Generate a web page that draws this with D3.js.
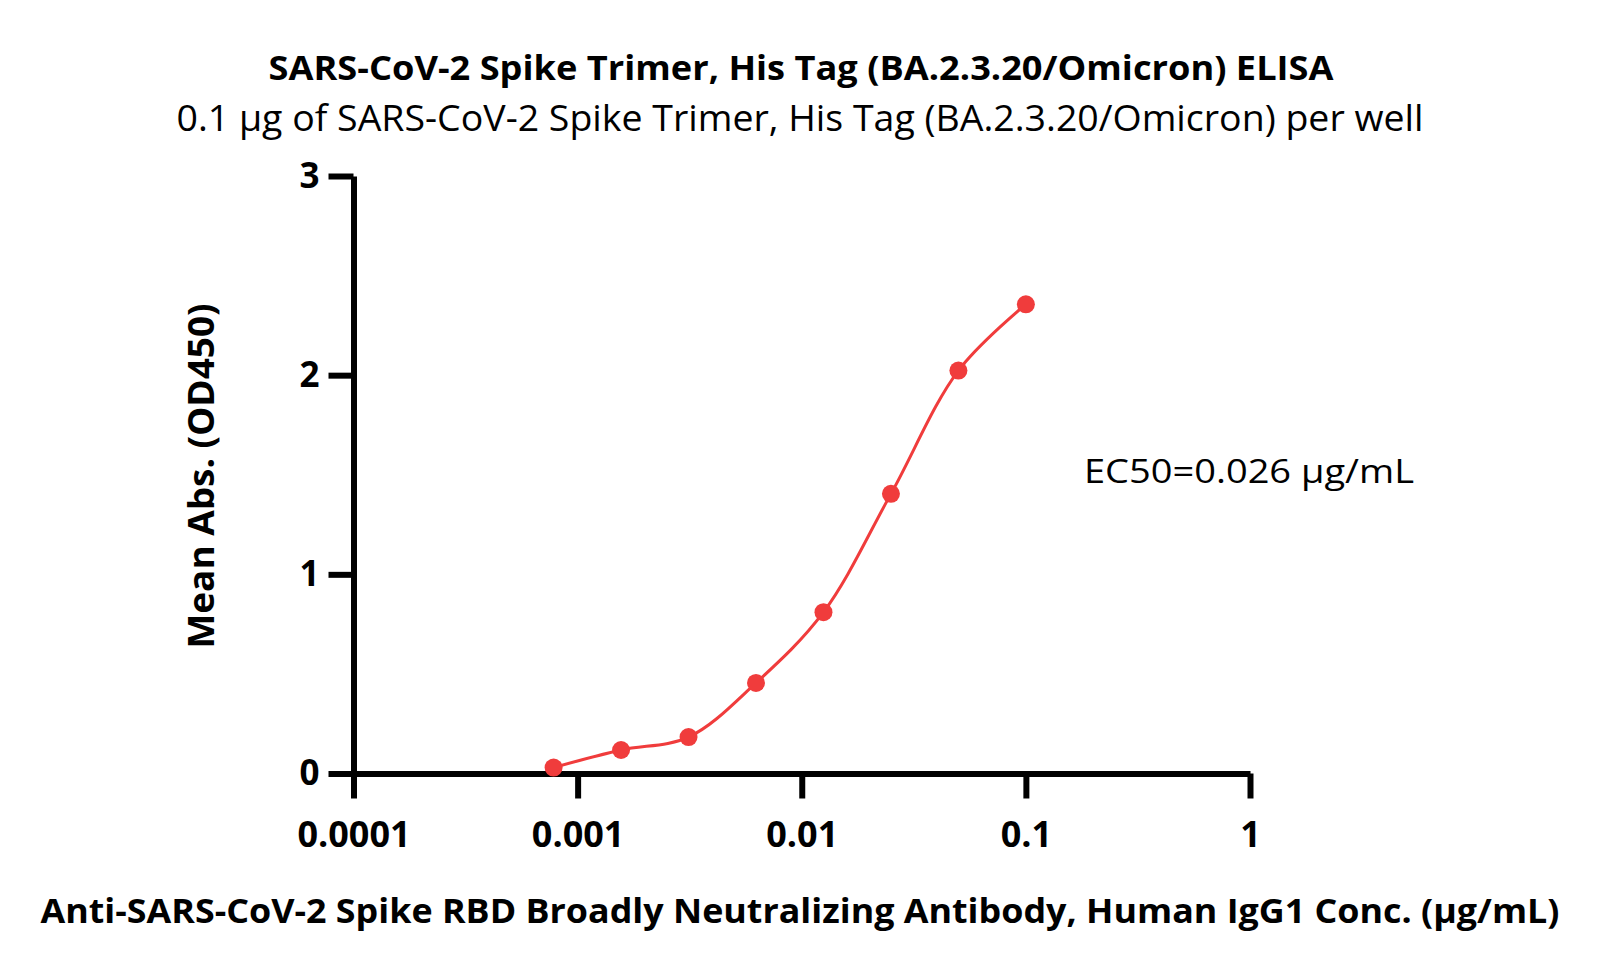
<!DOCTYPE html>
<html>
<head>
<meta charset="utf-8">
<script src="https://cdn.jsdelivr.net/npm/d3@7"></script>
<style>
  body { margin: 0; background: #fff; }
  text { font-family: "Open Sans", "Noto Sans", sans-serif; fill: #000; }
</style>
</head>
<body>
<div id="chart"></div>
<script>
// concentrations (µg/mL) and mean absorbance
const concentrations = [0.00078125, 0.0015625, 0.003125, 0.00625, 0.0125, 0.025, 0.05, 0.1];
const absorbance = [0.03, 0.118, 0.183, 0.455, 0.81, 1.404, 2.023, 2.356];

const xTickValues = [0.0001, 0.001, 0.01, 0.1, 1];
const xTickLabels = ["0.0001", "0.001", "0.01", "0.1", "1"];
const yTickValues = [0, 1, 2, 3];

const title = "SARS-CoV-2 Spike Trimer, His Tag (BA.2.3.20/Omicron) ELISA";
const subtitle = "0.1 \u00b5g of SARS-CoV-2 Spike Trimer, His Tag (BA.2.3.20/Omicron) per well";
const xLabel = "Anti-SARS-CoV-2 Spike RBD Broadly Neutralizing Antibody, Human IgG1 Conc. (\u03bcg/mL)";
const yLabel = "Mean Abs. (OD450)";
const ec50Label = "EC50=0.026 \u00b5g/mL";

const width = 1604;
const height = 979;
const red = "#f03c3c";

const data = concentrations.map((c, i) => ({ conc: c, od: absorbance[i] }));

const svg = d3.select("#chart")
    .append("svg")
    .attr("width", width)
    .attr("height", height);

const xScale = d3.scaleLog()
    .domain([0.0001, 1])
    .range([353.5, 1250]);

const yScale = d3.scaleLinear()
    .domain([0, 3])
    .range([773.5, 176]);

// axes
const bottomAxis = d3.axisBottom(xScale)
    .tickValues(xTickValues)
    .tickFormat((d, i) => xTickLabels[i])
    .tickSize(25)
    .tickSizeOuter(0)
    .tickPadding(23);

const leftAxis = d3.axisLeft(yScale)
    .tickValues(yTickValues)
    .tickFormat(d3.format("d"))
    .tickSize(25)
    .tickSizeOuter(0)
    .tickPadding(9);

const xAxisG = svg.append("g")
    .attr("transform", `translate(0,${yScale(0)})`)
    .call(bottomAxis);

const yAxisG = svg.append("g")
    .attr("transform", `translate(${xScale(0.0001)},0)`)
    .call(leftAxis);

[xAxisG, yAxisG].forEach(g => {
    g.select(".domain").attr("stroke", "#000").attr("stroke-width", 6);
    g.selectAll(".tick line").attr("stroke", "#000").attr("stroke-width", 6);
    g.selectAll(".tick text")
        .attr("fill", "#000")
        .style("font-family", "'Open Sans', sans-serif")
        .style("font-size", "35px")
        .style("font-weight", "bold");
});
xAxisG.selectAll(".tick text").style("font-size", "36px");

// curve through the points
const line = d3.line()
    .x(d => xScale(d.conc))
    .y(d => yScale(d.od))
    .curve(d3.curveCatmullRom.alpha(0.5));

svg.append("path")
    .datum(data)
    .attr("d", line)
    .attr("fill", "none")
    .attr("stroke", red)
    .attr("stroke-width", 3);

svg.selectAll(".dot")
    .data(data)
    .join("circle")
        .attr("class", "dot")
        .attr("cx", d => xScale(d.conc))
        .attr("cy", d => yScale(d.od))
        .attr("r", 9)
        .attr("fill", red);

// titles and labels
svg.append("text")
    .text(title)
    .attr("x", 801)
    .attr("y", 80)
    .attr("text-anchor", "middle")
    .attr("textLength", 1065)
    .attr("lengthAdjust", "spacingAndGlyphs")
    .style("font-size", "34px")
    .style("font-weight", "bold");

svg.append("text")
    .text(subtitle)
    .attr("x", 800)
    .attr("y", 131)
    .attr("text-anchor", "middle")
    .attr("textLength", 1247)
    .attr("lengthAdjust", "spacingAndGlyphs")
    .style("font-size", "36px");

svg.append("text")
    .text(xLabel)
    .attr("x", 800)
    .attr("y", 923)
    .attr("text-anchor", "middle")
    .attr("textLength", 1519)
    .attr("lengthAdjust", "spacingAndGlyphs")
    .style("font-size", "34px")
    .style("font-weight", "bold");

svg.append("text")
    .text(yLabel)
    .attr("transform", "translate(214,476) rotate(-90)")
    .attr("text-anchor", "middle")
    .attr("textLength", 345)
    .attr("lengthAdjust", "spacingAndGlyphs")
    .style("font-size", "35px")
    .style("font-weight", "bold");

svg.append("text")
    .text(ec50Label)
    .attr("x", 1084)
    .attr("y", 483)
    .attr("textLength", 330)
    .attr("lengthAdjust", "spacingAndGlyphs")
    .style("font-size", "33px");
</script>
</body>
</html>
